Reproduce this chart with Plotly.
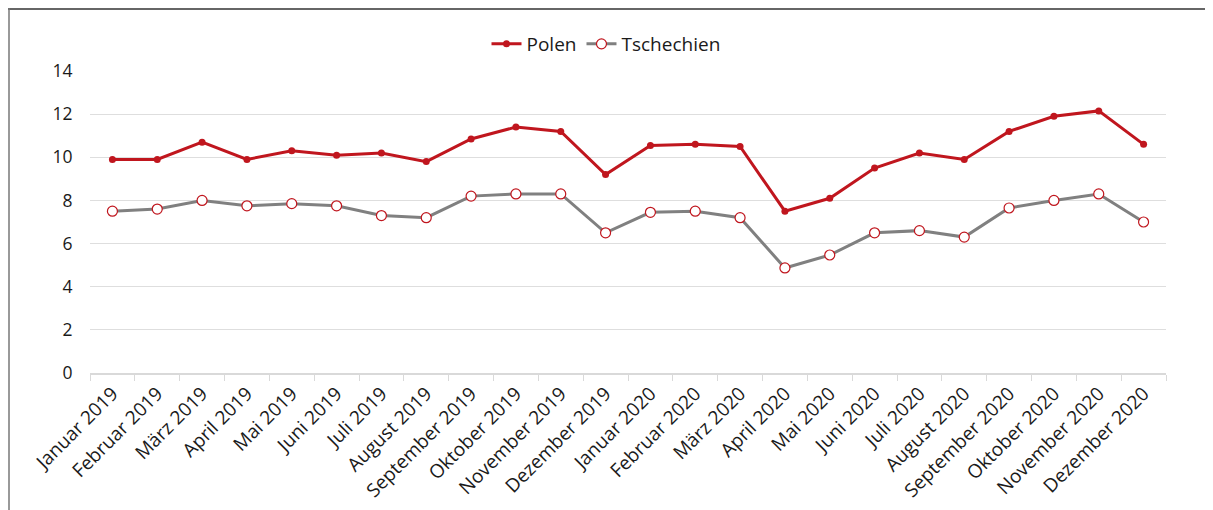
# Line chart: Polen vs. Tschechien, monthly values 2019-2020

import plotly.graph_objs as go

months = [
    "Januar 2019", "Februar 2019", "März 2019", "April 2019", "Mai 2019",
    "Juni 2019", "Juli 2019", "August 2019", "September 2019", "Oktober 2019",
    "November 2019", "Dezember 2019", "Januar 2020", "Februar 2020",
    "März 2020", "April 2020", "Mai 2020", "Juni 2020", "Juli 2020",
    "August 2020", "September 2020", "Oktober 2020", "November 2020",
    "Dezember 2020",
]

polen = [9.9, 9.9, 10.7, 9.9, 10.3, 10.1, 10.2, 9.8, 10.85, 11.4, 11.2, 9.2,
         10.55, 10.6, 10.5, 7.5, 8.1, 9.5, 10.2, 9.9, 11.2, 11.9, 12.15, 10.6]

tschechien = [7.5, 7.6, 8.0, 7.75, 7.85, 7.75, 7.3, 7.2, 8.2, 8.3, 8.3, 6.5,
              7.45, 7.5, 7.2, 4.87, 5.47, 6.5, 6.6, 6.3, 7.65, 8.0, 8.3, 7.0]

red = "#C0161E"
grey = "#808080"

fig = go.Figure()

fig.add_trace(go.Scatter(
    x=months, y=polen, name="Polen", mode="lines+markers",
    line=dict(color=red, width=3),
    marker=dict(color=red, size=7, symbol="circle"),
))

fig.add_trace(go.Scatter(
    x=months, y=tschechien, name="Tschechien", mode="lines+markers",
    line=dict(color=grey, width=3),
    marker=dict(color="white", size=10, symbol="circle",
                line=dict(color=red, width=1.2)),
))

# page body has an 8px margin, so the figure is drawn 8px smaller
W, H = 1205, 502
plot_w, plot_h = 1076, 302

fig.update_layout(
    width=W, height=H,
    margin=dict(l=82, r=47, t=63, b=137, autoexpand=False),
    paper_bgcolor="white", plot_bgcolor="white",
    font=dict(family="Open Sans, Liberation Sans, sans-serif", size=16,
              color="#1a1a1a"),
    showlegend=True,
    legend=dict(orientation="h", xref="paper", yref="paper",
                x=(606 - 90) / plot_w, xanchor="center",
                y=1 + (71 - 44) / plot_h, yanchor="middle",
                font=dict(size=19)),
    xaxis=dict(
        type="category", range=[-0.5, 23.5], tickangle=-45,
        tickson="boundaries", ticks="outside", ticklen=6, tickcolor="#d9d9d9",
        showline=True, linecolor="#d9d9d9", linewidth=2,
        showgrid=False, tickfont=dict(size=19),
    ),
    yaxis=dict(
        range=[0, 14], dtick=2, showline=False, zeroline=False,
        gridcolor="#dedede", gridwidth=1,
        ticks="outside", ticklen=13, tickcolor="rgba(0,0,0,0)",
        tickfont=dict(size=17.5),
    ),
    shapes=[
        dict(type="line", xref="paper", yref="paper",
             x0=-82 / plot_w, x1=(W - 82) / plot_w,
             y0=1 + 62 / plot_h, y1=1 + 62 / plot_h,
             line=dict(color="#333333", width=1.5)),
        dict(type="line", xref="paper", yref="paper",
             x0=-81 / plot_w, x1=-81 / plot_w,
             y0=1 + 63 / plot_h, y1=-137 / plot_h,
             line=dict(color="#777777", width=1.5)),
    ],
)

fig.write_html("out.html")
